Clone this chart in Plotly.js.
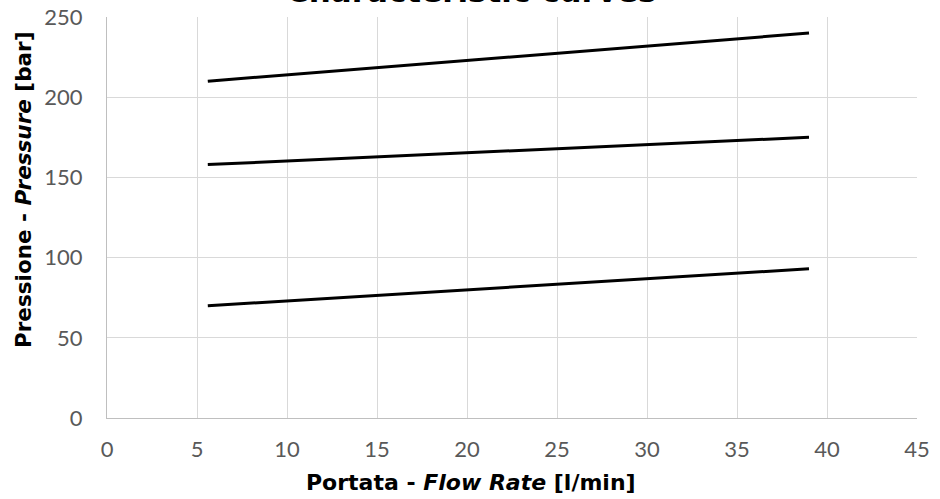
<!DOCTYPE html>
<html>
<head>
<meta charset="utf-8">
<script src="https://cdn.plot.ly/plotly-3.0.1.min.js"></script>
<style>html,body{margin:0;padding:0;background:#fff;}#chart{width:940px;height:499px;}</style>
</head>
<body>
<div id="chart"></div>
<script>
const flowRate = [5.6, 39];
const curveHigh = [210, 240];
const curveMid = [158, 175];
const curveLow = [70, 93];
const xTicks = [0, 5, 10, 15, 20, 25, 30, 35, 40, 45];
const yTicks = [0, 50, 100, 150, 200, 250];
const chartTitle = 'Characteristic curves';
const xTitle = '<b>Portata - <i>Flow Rate</i> [l/min]</b>';
const yTitle = '<b>Pressione - <i>Pressure</i> [bar]</b>';

const lineStyle = {color: '#000000', width: 3};
const traces = [curveHigh, curveMid, curveLow].map(y => ({
  x: flowRate, y: y, type: 'scatter', mode: 'lines', line: lineStyle, showlegend: false, hoverinfo: 'skip'
}));

const titleFont = 'DejaVu Sans, Liberation Sans, Arial';
const tickFont = {family: 'Lato, Carlito, sans-serif', size: 22, color: '#595959'};
const layout = {
  width: 940, height: 499,
  margin: {l: 107, r: 23, t: 17, b: 81},
  paper_bgcolor: '#ffffff', plot_bgcolor: '#ffffff',
  xaxis: {
    range: [0, 45], tickvals: xTicks, ticktext: xTicks.map(String),
    showgrid: true, gridcolor: '#d9d9d9', gridwidth: 1,
    zeroline: false, showline: true, linecolor: '#bfbfbf', linewidth: 1,
    ticks: '', ticklabelstandoff: 12, tickfont: tickFont
  },
  yaxis: {
    range: [0, 250], tickvals: yTicks, ticktext: yTicks.map(String),
    showgrid: true, gridcolor: '#d9d9d9', gridwidth: 1,
    zeroline: false, showline: true, linecolor: '#bfbfbf', linewidth: 1,
    ticks: '', ticklabelstandoff: 19, tickfont: tickFont
  },
  annotations: [
    {text: '<b>' + chartTitle + '</b>', xref: 'paper', yref: 'paper', x: (471 - 107) / 810, y: (418 + 9) / 401,
     xanchor: 'center', yanchor: 'middle', showarrow: false,
     font: {family: titleFont, size: 31, color: '#000'}},
    {text: xTitle, xref: 'paper', yref: 'paper', x: (471 - 107) / 810, y: (418 - 482) / 401,
     xanchor: 'center', yanchor: 'middle', showarrow: false,
     font: {family: titleFont, size: 22, color: '#000'}},
    {text: yTitle, xref: 'paper', yref: 'paper', x: (23 - 107) / 810, y: (418 - 190) / 401,
     xanchor: 'center', yanchor: 'middle', textangle: -90, showarrow: false,
     font: {family: titleFont, size: 21.5, color: '#000'}}
  ]
};

Plotly.newPlot('chart', traces, layout, {staticPlot: true, displayModeBar: false});
</script>
</body>
</html>
